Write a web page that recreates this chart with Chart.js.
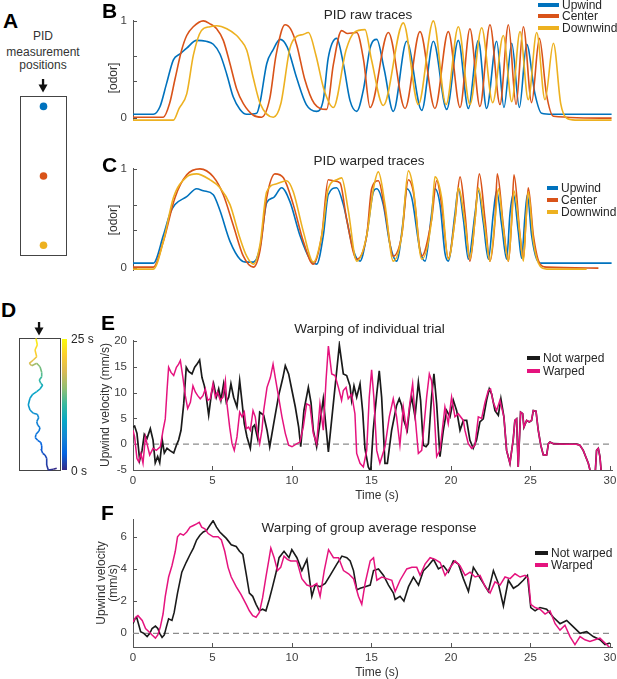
<!DOCTYPE html>
<html><head><meta charset="utf-8">
<script src="https://cdn.jsdelivr.net/npm/chart.js@4.4.1/dist/chart.umd.min.js"></script>
<style>
html,body{margin:0;padding:0;background:#fff;overflow:hidden}
body{position:relative;width:617px;height:679px;font-family:"Liberation Sans",Arial,sans-serif;color:#333}
.t{position:absolute;white-space:nowrap;line-height:12px;font-size:12px;transform:translate(-50%,-50%);z-index:2;text-align:center}
.rot{transform:translate(-50%,-50%) rotate(-90deg)}
.L{position:absolute;font-weight:bold;font-size:21px;line-height:21px;color:#000;z-index:2}
.ttl{font-size:13.5px;line-height:14px;color:#262626}
.lg{position:absolute;font-size:12px;line-height:12px;height:12px;white-space:nowrap;color:#262626;display:flex;align-items:center;z-index:2}
.lg span{display:inline-block;height:4px;margin-right:3px}
.box{position:absolute;border:1px solid #444;box-sizing:border-box}
</style></head><body>

<div class="L" style="left:3px;top:10px">A</div>
<div class="t" style="left:43px;top:36px">PID</div>
<div class="t" style="left:43px;top:51.5px">measurement</div>
<div class="t" style="left:43px;top:64.5px">positions</div>
<svg style="position:absolute;left:36px;top:78px" width="14" height="16"><rect x="5.9" y="1" width="2.3" height="7" fill="#111"/><polygon points="2.5,6.5 11.5,6.5 7,14.5" fill="#111"/></svg>
<div class="box" style="left:20px;top:96px;width:47px;height:160px"></div>

<div class="L" style="left:102px;top:0px">B</div>
<div class="t ttl" style="left:368px;top:15px">PID raw traces</div>
<div class="t rot" style="left:113px;top:78px">[odor]</div>

<div class="L" style="left:102px;top:154px">C</div>
<div class="t ttl" style="left:369px;top:161px">PID warped traces</div>
<div class="t rot" style="left:113px;top:220px">[odor]</div>

<div class="L" style="left:1px;top:299px">D</div>
<svg style="position:absolute;left:32px;top:321px" width="14" height="16"><rect x="5.9" y="1" width="2.3" height="7" fill="#111"/><polygon points="2.5,6.5 11.5,6.5 7,14.5" fill="#111"/></svg>
<div class="box" style="left:19px;top:338px;width:42px;height:133px"></div>
<div id="cbar" style="position:absolute;left:61.5px;top:339px;width:5.5px;height:131px"></div>
<div class="lg" style="left:71px;top:332.5px">25 s</div>
<div class="lg" style="left:71px;top:464.5px">0 s</div>

<div class="L" style="left:101px;top:312px">E</div>
<div class="t ttl" style="left:369.5px;top:329px">Warping of individual trial</div>
<div class="t rot" style="left:105px;top:405px">Upwind velocity (mm/s)</div>
<div class="t" style="left:377px;top:495px">Time (s)</div>

<div class="L" style="left:101px;top:502px">F</div>
<div class="t ttl" style="left:369px;top:528px">Warping of group average response</div>
<div class="t rot" style="left:107px;top:583px">Upwind velocity<br>(mm/s)</div>
<div class="t" style="left:377px;top:672px">Time (s)</div>

<script>
// ---------------- DATA ----------------
const seriesNames = ['Upwind', 'Center', 'Downwind'];
const trialNames = ['Not warped', 'Warped'];
const pidPos = [0.042, 0.5, 0.956]; // sensor positions along tunnel (fraction from upwind end)

const xTicks = [0, 5, 10, 15, 20, 25, 30];
const odorTicks = [0, 0.38, 0.64, 1];
const odorTickLabels = {0: '0', 1: '1'};
const trialTicks = [-5, 0, 5, 10, 15, 20];
const avgTicks = [0, 2, 4, 6];

// B: raw PID traces
const rawUpT = [0,1.28,1.7,2.1,2.54,2.96,3.38,4.0,4.6,5.05,5.47,5.9,6.3,6.73,7.15,7.78,7.99,8.41,8.8,9.25,9.7,10.3,10.9,11.55,11.97,12.28,12.81,13.23,13.65,14.07,14.5,14.91,15.33,15.8,16.37,17.21,18.16,18.89,19.73,20.46,21.09,21.72,22.24,22.87,23.33,23.82,24.30,24.76,25.28,25.70,26.4,30.1];
const rawUpV = [0.04,0.04,0.12,0.35,0.60,0.66,0.72,0.80,0.79,0.76,0.66,0.45,0.22,0.09,0.04,0.05,0.16,0.56,0.70,0.81,0.73,0.41,0.14,0.07,0.19,0.62,0.82,0.56,0.18,0.07,0.30,0.72,0.81,0.50,0.07,0.79,0.08,0.79,0.09,0.80,0.10,0.80,0.10,0.79,0.11,0.77,0.11,0.76,0.25,0.05,0.04,0.04];
const rawCenterT = [0,1.91,2.3,2.64,3.06,3.38,3.79,4.42,4.84,5.26,5.68,6.10,6.52,6.94,7.57,8.09,8.6,9.0,9.56,9.9,10.3,10.8,11.4,12.18,12.6,13.12,13.5,14.07,14.5,14.91,16.06,17.11,18.05,18.99,19.83,20.57,21.19,21.82,22.45,23.08,23.61,24.09,24.55,25.07,25.56,26.0,26.44,30.1];
const rawCenterV = [0.01,0.01,0.15,0.40,0.70,0.85,0.94,1.00,0.97,0.92,0.80,0.56,0.30,0.15,0.03,0.01,0.20,0.65,0.96,0.92,0.75,0.40,0.15,0.09,0.55,0.90,0.87,0.88,0.60,0.11,0.88,0.10,0.89,0.10,0.89,0.11,0.92,0.12,0.96,0.14,0.96,0.14,0.94,0.16,0.82,0.25,0.02,0.00];
const rawDownT = [0,2.54,2.9,3.38,3.8,4.3,4.84,5.26,5.9,6.52,6.73,7.15,7.57,8.0,8.83,9.3,9.87,10.29,10.7,11.03,11.5,12.0,12.6,13.4,13.9,14.59,15.0,15.74,17.00,17.95,18.89,19.69,20.46,21.19,21.93,22.62,23.29,23.82,24.34,24.86,25.39,25.91,26.44,26.9,27.27,27.8,30.1];
const rawDownV = [-0.02,-0.02,0.10,0.25,0.65,0.90,0.94,0.95,0.92,0.85,0.81,0.70,0.41,0.15,0.01,0.15,0.72,0.84,0.86,0.88,0.65,0.30,0.11,0.70,0.88,0.91,0.60,0.13,0.98,0.14,1.00,0.14,0.94,0.14,0.93,0.16,0.85,0.17,0.89,0.19,0.88,0.19,0.77,0.15,0.0,-0.02,-0.02];

// C: warped PID traces
const warpUpT = [0,1.28,1.91,2.33,2.64,3.38,4.00,4.42,5.05,5.47,6.10,6.73,7.15,7.57,7.99,8.41,8.83,9.35,9.87,10.50,11.13,11.55,11.97,12.28,12.81,13.23,13.86,14.28,14.70,15.12,15.33,15.74,16.16,16.58,17.00,17.21,17.53,18.05,18.37,18.78,18.99,19.31,19.62,19.83,20.25,20.46,20.78,21.09,21.51,21.72,22.03,22.35,22.66,22.87,23.19,23.50,23.71,23.92,24.23,24.44,24.65,24.80,25.07,25.39,25.70,30.10];
const warpUpV = [0.05,0.05,0.33,0.55,0.64,0.72,0.80,0.78,0.74,0.58,0.27,0.09,0.06,0.06,0.21,0.66,0.71,0.81,0.67,0.33,0.09,0.04,0.33,0.74,0.81,0.64,0.18,0.07,0.33,0.77,0.80,0.64,0.24,0.07,0.49,0.80,0.71,0.18,0.07,0.55,0.80,0.64,0.15,0.07,0.55,0.80,0.49,0.09,0.55,0.78,0.46,0.09,0.55,0.78,0.43,0.09,0.55,0.75,0.37,0.10,0.52,0.74,0.33,0.09,0.05,0.05];
const warpCenterT = [0,1.28,1.91,2.64,3.38,4.21,5.05,5.68,6.31,6.94,7.57,7.99,8.41,8.93,9.46,10.08,10.71,11.34,11.87,12.28,12.60,13.02,13.44,14.07,14.70,15.01,15.43,15.85,16.37,16.90,17.32,17.63,18.16,18.78,19.10,19.41,19.83,20.25,20.57,20.88,21.19,21.51,21.78,22.14,22.45,22.77,22.91,23.29,23.61,23.82,23.96,24.34,24.55,24.72,24.86,25.18,25.60,26.02,29.27];
const warpCenterV = [0.01,0.01,0.27,0.71,0.94,1.00,0.92,0.74,0.43,0.12,0.01,0.18,0.71,0.95,0.91,0.64,0.27,0.04,0.33,0.89,0.88,0.86,0.49,0.09,0.33,0.80,0.88,0.58,0.12,0.33,0.89,0.77,0.12,0.49,0.88,0.64,0.10,0.49,0.92,0.55,0.07,0.49,0.95,0.49,0.07,0.49,0.95,0.43,0.07,0.49,0.94,0.33,0.09,0.49,0.81,0.33,0.04,0.01,0.00];
const warpDownT = [0,1.28,1.91,2.54,3.38,4.00,4.84,5.47,6.10,6.73,7.15,7.57,7.99,8.41,9.04,9.66,10.08,10.71,11.34,11.87,12.28,12.81,13.12,13.54,14.07,14.70,15.12,15.43,15.85,16.37,16.90,17.32,17.63,18.16,18.78,18.99,19.41,19.83,20.25,20.46,20.88,21.19,21.51,21.72,22.14,22.45,22.77,22.98,23.29,23.61,23.82,23.96,24.34,24.55,24.72,24.86,25.18,25.60,26.02,28.53];
const warpDownV = [-0.01,-0.01,0.27,0.71,0.92,0.95,0.89,0.81,0.64,0.30,0.12,0.04,0.24,0.77,0.85,0.88,0.77,0.37,0.06,0.33,0.80,0.89,0.91,0.58,0.07,0.33,0.80,0.97,0.64,0.07,0.33,0.98,0.80,0.09,0.49,0.92,0.71,0.09,0.49,0.81,0.46,0.09,0.49,0.81,0.40,0.07,0.49,0.80,0.40,0.07,0.49,0.78,0.33,0.07,0.49,0.77,0.27,0.02,-0.01,-0.01];

// D: trajectory (arena units) and time (s)
const trajX = [37.7,34.3,29.3,27.7,27.7,26.0,23.7,22.0,22.7,21.7,18.7,16.3,17.0,20.0,21.0,18.7,17.7,19.7,18.3,14.3,11.0,9.3,11.0,13.7,17.7,21.0,23.7,21.7,20.3,22.7,22.7,21.0,17.7,12.7,10.3,14.3,17.7,16.0,18.3,17.0];
const trajY = [2.7,1.7,1.0,6.0,12.7,16.0,17.7,22.0,25.3,28.7,30.7,33.3,36.7,40.0,43.3,46.0,49.3,53.3,56.7,57.7,61.0,66.0,72.7,76.7,79.3,82.0,86.0,87.7,91.0,94.3,98.7,104.3,107.7,105.3,107.7,111.0,114.3,121.0,126.0,132.7];
const trajT = [0,0.4,0.8,1.2,1.6,2.0,2.4,2.8,3.2,3.6,4.0,4.4,4.8,5.2,5.6,6.0,6.4,6.8,7.2,7.6,8.0,8.4,8.8,9.2,9.6,10.0,10.8,11.6,12.5,13.5,14.5,15.5,16.5,18.0,19.5,20.5,21.8,22.8,23.9,25.0];
const trajTMax = 25;

// E: individual trial upwind velocity (mm/s)
const trialRawT = [0,0.10,0.25,0.42,0.57,0.71,0.88,1.09,1.26,1.40,1.55,1.68,1.84,1.97,2.14,2.35,2.56,2.73,2.87,3.02,3.19,3.35,3.50,3.71,3.88,4.03,4.19,4.34,4.49,4.61,4.76,4.93,5.07,5.24,5.39,5.53,5.70,5.87,6.02,6.16,6.33,6.54,6.71,6.86,7.00,7.17,7.38,7.53,7.65,7.84,7.97,8.22,8.43,8.60,8.85,9.16,9.43,9.58,9.79,10.00,10.21,10.42,10.55,10.75,11.03,11.20,11.34,11.55,11.97,12.29,12.98,13.23,13.44,13.65,13.75,13.90,14.07,14.28,14.45,14.59,14.80,14.95,15.11,15.33,15.49,15.64,15.85,16.00,16.27,16.58,16.75,16.90,17.04,17.25,17.42,17.53,17.74,17.95,18.09,18.26,18.43,18.58,18.78,18.93,19.10,19.31,19.52,19.73,19.94,20.15,20.36,20.57,20.78,20.99,21.19,21.40,21.61,21.82,22.03,22.24,22.41,22.56,22.77,22.98,23.14];
const trialRawV = [3.3,3.5,2.1,-3.1,-1.2,1.9,1.1,3.0,0.8,-3.6,-2.4,-3.6,0.8,-1.7,-0.8,-1.3,-1.7,-0.2,0.8,2.7,7.8,14.9,14.1,13.6,14.9,15.5,16.3,12.9,11.3,9.1,5.6,9.7,11.7,9.1,10.7,8.5,11.7,8.1,9.1,11.7,9.1,7.2,12.3,8.1,4.0,1.4,-0.8,3.3,3.7,1.1,6.2,5.6,2.7,-0.5,4.0,9.4,12.9,15.2,13.6,10.4,7.2,3.3,-0.5,6.5,11.0,8.0,2.7,-0.5,8.8,-1.5,19.2,13.6,13.3,11.3,8.5,11.3,9.1,11.7,6.2,-0.8,-4.4,-5.3,2.7,9.7,14.2,9.1,-3.7,-3.7,2.7,7.5,8.8,7.5,4.6,2.7,7.5,9.1,5.3,12.0,8.5,-0.2,-0.5,0.1,9.1,13.6,7.8,-2.4,2.7,6.5,5.3,8.5,6.5,2.7,4.6,4.6,0.8,-0.8,0.8,4.3,4.9,8.5,10.7,9.7,6.5,5.6,8.8];
const trialWarpT = [0,0.10,0.25,0.36,0.50,0.63,0.78,0.88,1.05,1.26,1.47,1.61,1.72,1.89,2.03,2.14,2.24,2.39,2.56,2.73,2.87,2.98,3.14,3.29,3.44,3.61,3.77,3.92,4.07,4.23,4.40,4.55,4.70,4.86,5.03,5.18,5.32,5.49,5.66,5.81,5.91,6.08,6.23,6.37,6.54,6.71,6.86,7.00,7.13,7.27,7.38,7.55,7.69,7.80,7.97,8.11,8.22,8.43,8.64,8.81,8.95,9.16,9.37,9.58,9.79,10.00,10.31,10.50,10.71,10.92,11.13,11.34,11.55,11.76,11.97,12.14,12.29,12.50,12.71,12.92,13.12,13.23,13.40,13.54,13.75,13.96,14.07,14.28,14.49,14.70,14.86,15.01,15.15,15.33,15.53,15.85,16.12,16.37,16.58,16.79,17.00,17.21,17.42,17.59,17.74,17.95,18.16,18.47,18.64,18.78,18.93,19.10,19.31,19.62,19.83,20.04,20.25,20.46,20.78,20.88,21.09,21.30,21.51,21.72,21.93,22.14,22.35,22.49,22.66,22.87,23.08];
const trialWarpV = [2.7,1.4,-2.8,-3.4,-1.8,-3.7,1.4,0.1,-2.1,-0.8,-1.2,-0.8,-0.5,2.7,4.9,10.4,14.9,13.9,13.3,14.9,15.5,16.2,12.9,9.4,6.9,8.1,11.3,10.1,9.4,8.8,9.4,10.7,8.5,8.8,11.7,9.1,10.1,8.5,9.1,12.3,7.8,3.3,0.1,-1.2,1.4,6.2,5.3,6.2,3.0,3.3,2.7,6.5,5.3,2.7,0.1,2.7,6.5,11.0,12.9,15.5,12.9,9.1,5.3,2.1,-0.2,-0.5,0.1,0.4,3.3,7.8,7.5,2.1,0.1,7.8,2.7,12.3,19.0,13.6,13.3,11.0,8.5,10.4,11.0,8.8,9.7,5.9,-1.8,-3.7,-4.4,-1.2,9.1,14.4,9.1,-1.2,-3.7,-0.5,5.3,8.8,5.3,-0.2,7.2,2.7,8.1,11.7,5.6,-1.8,-1.2,9.1,13.6,12.3,7.2,-2.4,-1.2,7.2,4.0,9.1,5.3,5.9,4.6,2.7,0.1,-0.8,-0.2,5.3,5.0,8.1,10.4,10.7,8.1,6.5,8.5];
// after ~23 s both traces coincide
const trialTailT = [23.33,23.50,23.71,23.92,24.02,24.13,24.23,24.38,24.51,24.59,24.76,24.93,25.07,25.18,25.35,25.49,25.65,25.81,26.02,26.13,26.23,26.44,27.27,27.90,28.11,28.32,28.64,28.85,29.06,29.16,29.27,29.37,29.48,29.58];
const trialTailV = [5.3,-1.2,-3.7,1.0,4.6,4.9,-4.4,6.2,5.9,3.3,4.6,4.3,4.6,6.5,6.4,2.7,-0.2,-2.1,-2.1,0.1,0.4,0.1,0.0,0.0,-0.2,-1.2,-3.7,-6.3,-6.3,-1.2,-0.8,-2.4,-6.3,-6.3];

// F: group average upwind velocity (mm/s)
const avgRawT = [0,0.12,0.23,0.37,0.48,0.68,0.89,1.06,1.20,1.41,1.56,1.68,1.83,1.97,2.10,2.24,2.45,2.59,2.80,3.07,3.34,3.59,3.80,4.00,4.21,4.42,4.63,4.83,5.04,5.25,5.46,5.66,5.87,6.18,6.49,6.70,6.91,7.12,7.32,7.53,7.74,7.95,8.15,8.36,8.57,8.78,8.98,9.19,9.50,9.81,9.99,10.31,10.62,10.94,11.25,11.46,11.77,12.09,12.40,12.82,13.14,13.45,13.66,13.87,14.08,14.29,14.60,14.92,15.13,15.44,15.76,16.07,16.38,16.49,16.80,17.04,17.33,17.64,17.96,18.27,18.58,18.90,19.21,19.53,19.84,20.15,20.47,20.78,21.10,21.41,21.73,22.04,22.35,22.67,22.98,23.30,23.61,23.93,24.24,24.55,24.81,25.02,25.29,25.60,26.02,26.44,26.86,27.28,27.70,28.12,28.54,28.95,29.37,29.69,30.0];
const avgRawV = [0.6,0.9,1.0,0.5,0.1,0.0,-0.2,0.0,0.3,0.45,0.3,0.0,-0.25,-0.1,0.4,0.9,0.8,1.3,2.5,3.8,4.4,4.9,5.3,5.8,6.1,6.3,6.4,6.7,7.0,6.6,6.3,6.1,5.9,5.5,5.4,5.1,4.9,3.7,2.5,2.3,1.8,1.4,1.5,1.4,2.1,2.9,3.7,4.7,5.1,4.7,5.2,4.7,3.9,4.6,2.3,3.0,2.9,3.1,3.6,4.3,4.8,4.7,4.5,3.9,2.7,2.8,2.9,3.0,3.9,4.0,3.6,3.0,2.5,2.1,2.3,2.0,2.9,3.5,3.0,3.9,4.2,4.6,4.0,4.2,3.8,4.5,4.3,3.4,2.6,4.1,3.6,3.1,2.6,3.9,3.1,1.7,3.3,2.8,3.0,3.3,3.6,1.6,1.4,1.6,1.5,1.0,0.6,0.8,0.4,0.0,0.1,-0.2,-0.4,-0.7,-0.6];
const avgWarpT = [0,0.17,0.31,0.58,0.79,1.00,1.20,1.41,1.56,1.72,1.89,2.03,2.24,2.45,2.66,2.80,2.97,3.17,3.38,3.59,3.80,4.00,4.17,4.32,4.52,4.73,5.04,5.35,5.56,5.77,5.98,6.18,6.49,6.80,7.12,7.32,7.53,7.74,7.95,8.15,8.36,8.57,8.67,8.88,9.09,9.29,9.50,9.71,9.92,10.31,10.62,10.94,11.25,11.56,11.77,12.03,12.30,12.61,12.93,13.24,13.56,13.87,14.18,14.39,14.60,14.92,15.13,15.34,15.65,15.96,16.28,16.49,16.80,17.22,17.54,17.85,18.06,18.37,18.69,19.00,19.32,19.63,19.95,20.26,20.57,20.89,21.20,21.52,21.83,22.15,22.46,22.77,23.09,23.40,23.72,24.03,24.35,24.66,24.87,25.02,25.29,25.60,25.92,26.23,26.55,26.86,27.17,27.49,27.80,28.12,28.43,28.74,29.06,29.37,29.69,30.0];
const avgWarpV = [0.7,1.0,1.1,0.8,0.3,0.1,-0.1,-0.3,-0.1,0.4,1.2,2.3,3.5,4.2,5.1,6.0,6.2,6.1,6.3,6.6,6.7,6.8,6.9,6.6,6.5,6.2,6.0,6.0,5.8,5.1,4.1,3.5,2.9,2.4,1.8,1.4,1.1,1.0,1.3,2.2,3.5,4.7,5.3,4.7,3.9,4.1,4.8,4.6,4.5,4.5,3.4,3.0,2.9,3.1,2.3,3.9,5.2,4.7,4.7,3.9,3.7,3.4,2.3,1.8,3.1,4.5,4.7,3.3,3.5,3.4,3.3,2.6,3.3,4.0,4.1,4.1,3.6,4.3,4.7,4.6,4.4,3.6,4.1,4.5,4.2,3.6,3.8,3.5,3.6,2.9,2.5,3.2,3.0,3.5,3.4,3.7,3.5,3.6,3.4,1.8,1.6,1.5,1.2,1.4,0.6,0.2,0.5,-0.2,-0.7,-0.2,-0.4,-0.5,-0.4,-0.3,-0.6,-0.9];

// ---------------- STYLE ----------------
const FONT = '"Liberation Sans", Arial, sans-serif';
const AXIS = '#555555';
const TICK = '#404040';
const seriesColors = ['#0072BD', '#D95319', '#EDB120'];
const trialColors = ['#1a1a1a', '#E5137E'];
const PARULA = ['#352A87','#0363E1','#1485D4','#06A7C6','#38B99E','#92BF73','#D9BA56','#FCCE2E','#F9FB0E'];

function hexRgb(h){ return [parseInt(h.slice(1,3),16), parseInt(h.slice(3,5),16), parseInt(h.slice(5,7),16)]; }
function parula(f){
  f = Math.min(1, Math.max(0, f));
  const n = PARULA.length - 1;
  const i = Math.min(n - 1, Math.floor(f * n));
  const r = f * n - i;
  const a = hexRgb(PARULA[i]), b = hexRgb(PARULA[i + 1]);
  return 'rgb(' + a.map((v, k) => Math.round(v + (b[k] - v) * r)).join(',') + ')';
}
document.getElementById('cbar').style.background = 'linear-gradient(to top,' + PARULA.join(',') + ')';

const inwardTicks = {
  id: 'inwardTicks',
  beforeDatasetsDraw(chart) {
    const ctx = chart.ctx, a = chart.chartArea;
    ctx.save();
    ctx.strokeStyle = AXIS; ctx.lineWidth = 1;
    Object.values(chart.scales).forEach(s => {
      if (s.options.display === false) return;
      s.ticks.forEach(t => {
        const p = Math.round(s.getPixelForValue(t.value)) + 0.5;
        ctx.beginPath();
        if (s.isHorizontal()) { ctx.moveTo(p, a.bottom); ctx.lineTo(p, a.bottom - 4); }
        else { ctx.moveTo(a.left, p); ctx.lineTo(a.left + 4, p); }
        ctx.stroke();
      });
    });
    ctx.restore();
  }
};

function pts(T, V) { return T.map((t, i) => ({x: t, y: V[i]})); }

function addCanvas(left, top, w, h) {
  const cv = document.createElement('canvas');
  cv.width = w; cv.height = h;
  cv.style.cssText = 'position:absolute;left:' + left + 'px;top:' + top + 'px;width:' + w + 'px;height:' + h + 'px;z-index:1';
  document.body.appendChild(cv);
  return cv;
}

function lineChart(area, xMax, yMin, yMax, yTicks, yLabel, showX, datasets) {
  const yW = 30, padL = 2, padT = 12, padR = 10, padB = 4, xH = showX ? 20 : 0;
  const left = area[0] - yW - padL, top = area[1] - padT;
  const w = area[2] + padR - left, h = area[3] + xH + padB - top;
  const cv = addCanvas(left, top, w, h);
  return new Chart(cv.getContext('2d'), {
    type: 'line',
    data: {datasets},
    options: {
      responsive: false, animation: false, events: [],
      layout: {padding: {left: padL, top: padT, right: padR, bottom: padB}},
      plugins: {legend: {display: false}, tooltip: {enabled: false}, title: {display: false}},
      elements: {point: {radius: 0}},
      scales: {
        x: {type: 'linear', min: 0, max: xMax, display: showX,
            afterFit: s => { s.height = xH; },
            afterBuildTicks: s => { s.ticks = xTicks.map(v => ({value: v})); },
            grid: {display: false, drawTicks: false, tickLength: 0}, border: {display: true, color: AXIS, width: 1},
            ticks: {font: {family: FONT, size: 11.5}, color: TICK, padding: 4, maxRotation: 0, autoSkip: false}},
        y: {type: 'linear', min: yMin, max: yMax,
            afterFit: s => { s.width = yW; },
            afterBuildTicks: s => { s.ticks = yTicks.map(v => ({value: v})); },
            grid: {display: false, drawTicks: false, tickLength: 0}, border: {display: true, color: AXIS, width: 1},
            ticks: {font: {family: FONT, size: 11.5}, color: TICK, padding: 6, autoSkip: false, callback: yLabel}}
      }
    },
    plugins: [inwardTicks]
  });
}

function legend(x, rowsY, swW, names, colors) {
  names.forEach((n, i) => {
    const d = document.createElement('div');
    d.className = 'lg';
    d.style.left = x + 'px'; d.style.top = (rowsY[i] - 6) + 'px';
    d.innerHTML = '<span style="width:' + swW + 'px;background:' + colors[i] + '"></span>' + n;
    document.body.appendChild(d);
  });
}

const odorLabel = v => (v in odorTickLabels ? odorTickLabels[v] : '');
const numLabel = v => String(v);
const mono = {cubicInterpolationMode: 'monotone', clip: false, borderWidth: 1.6, pointRadius: 0, fill: false};

function odorSets(sets) {
  return sets.map((s, i) => Object.assign({data: pts(s[0], s[1]), borderColor: seriesColors[i], order: 2 - i}, mono));
}

// B
lineChart([133, 20, 617, 129], 30.44, -0.02, 1, odorTicks, odorLabel, false,
  odorSets([[rawUpT, rawUpV], [rawCenterT, rawCenterV], [rawDownT, rawDownV]]));
legend(538, [5, 16.3, 27.6], 21, seriesNames, seriesColors);

// C
lineChart([133, 168, 617, 279], 30.44, -0.02, 1, odorTicks, odorLabel, false,
  odorSets([[warpUpT, warpUpV], [warpCenterT, warpCenterV], [warpDownT, warpDownV]]));
legend(547, [188, 200, 212], 11, seriesNames, seriesColors);

// E
const zeroE = {data: [{x: 0, y: 0}, {x: 30.13, y: 0}], borderColor: '#8c8c8c', borderDash: [6, 4], borderWidth: 1.2, pointRadius: 0, order: 10};
lineChart([133, 340, 612, 470], 30.13, -5, 20, trialTicks, numLabel, true, [
  zeroE,
  {data: pts(trialRawT.concat(trialTailT), trialRawV.concat(trialTailV)), borderColor: trialColors[0], borderWidth: 1.7, pointRadius: 0, order: 1, clip: 0},
  {data: pts(trialWarpT.concat(trialTailT), trialWarpV.concat(trialTailV)), borderColor: trialColors[1], borderWidth: 1.5, pointRadius: 0, order: 0, clip: 0}
]);
legend(527, [358.3, 371], 13, trialNames, trialColors);

// F
const zeroF = {data: [{x: 0, y: 0}, {x: 30.13, y: 0}], borderColor: '#8c8c8c', borderDash: [6, 4], borderWidth: 1.2, pointRadius: 0, order: 10};
lineChart([133, 519, 612, 647], 30.13, -0.85, 7.05, avgTicks, numLabel, true, [
  zeroF,
  {data: pts(avgRawT, avgRawV), borderColor: trialColors[0], borderWidth: 1.6, pointRadius: 0, order: 1, clip: 0},
  {data: pts(avgWarpT, avgWarpV), borderColor: trialColors[1], borderWidth: 1.5, pointRadius: 0, order: 0, clip: 0}
]);
legend(535, [552.7, 565], 13, trialNames, trialColors);

// A: sensor dots
new Chart(addCanvas(20, 96, 47, 160).getContext('2d'), {
  type: 'scatter',
  data: {datasets: [{data: pidPos.map(p => ({x: 0, y: p})), pointRadius: 3.8, pointBorderWidth: 0, pointBackgroundColor: seriesColors, clip: false}]},
  options: {responsive: false, animation: false, events: [], layout: {padding: 0},
    plugins: {legend: {display: false}, tooltip: {enabled: false}},
    scales: {x: {display: false, min: -1, max: 1}, y: {display: false, min: 0, max: 1, reverse: true}}}
});

// D: trajectory coloured by time
new Chart(addCanvas(19, 338, 42, 133).getContext('2d'), {
  type: 'scatter',
  data: {datasets: [{data: pts(trajX, trajY), showLine: true, pointRadius: 0, borderWidth: 1.6, clip: false,
    borderColor: PARULA[2], segment: {borderColor: c => parula(trajT[c.p0DataIndex] / trajTMax)}}]},
  options: {responsive: false, animation: false, events: [], layout: {padding: 0},
    plugins: {legend: {display: false}, tooltip: {enabled: false}},
    scales: {x: {display: false, min: 0, max: 42}, y: {display: false, min: 0, max: 133}}}
});
</script>
</body></html>
